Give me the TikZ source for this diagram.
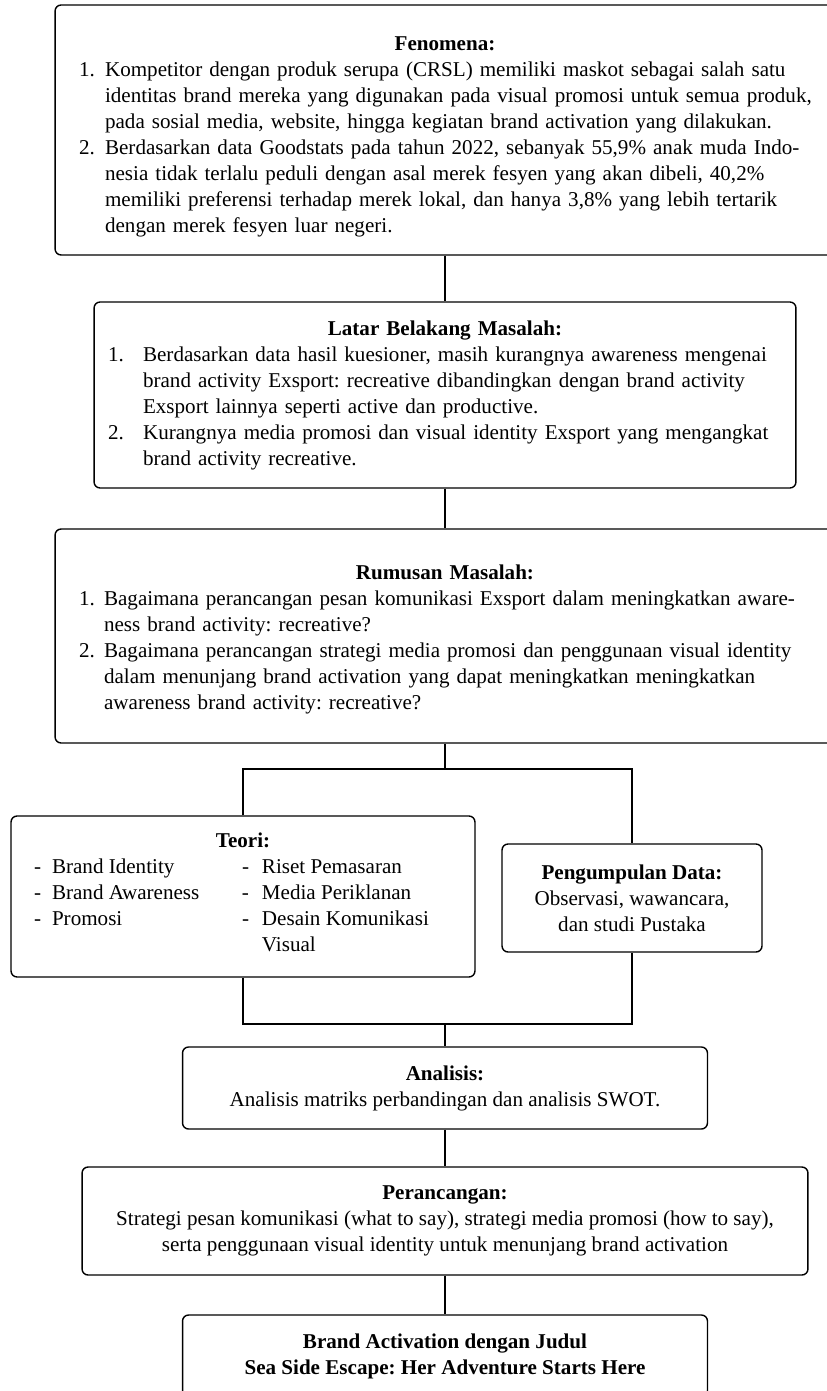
\documentclass[tikz,border=0pt]{standalone}
\usepackage{fontspec}
\setmainfont{Liberation Serif}
\usepackage{enumitem}
\setlist[enumerate]{topsep=0pt,itemsep=0pt,parsep=0pt,partopsep=0pt,labelsep=0pt,align=left}
\frenchspacing

\begin{document}
\begin{tikzpicture}
  [x=0.02cm, y=-0.02cm, line width=0.8pt,
   boxN/.style={draw,rounded corners=0.12cm,inner ysep=0pt,font=\fontsize{12}{14.8}\selectfont},
   listN/.style={boxN,align=left}
  ]

  \useasboundingbox (0,0) rectangle (826,1391);

  \node[listN,inner xsep=0.48cm,text width=14.64cm,minimum height=5cm] (fenomena) at (445,130) {%
    {\centering\rule{0pt}{16pt}\textbf{Fenomena:}\par}
    \begin{enumerate}[leftmargin=0.52cm,labelwidth=0.52cm]
      \item \mbox{Kompetitor dengan produk serupa (CRSL) memiliki maskot sebagai salah satu}\newline
            \mbox{identitas brand mereka yang digunakan pada visual promosi untuk semua produk,}\newline
            \mbox{pada sosial media, website, hingga kegiatan brand activation yang dilakukan.}
      \item \mbox{Berdasarkan data Goodstats pada tahun 2022, sebanyak 55,9\% anak muda Indo-}\newline
            \mbox{nesia tidak terlalu peduli dengan asal merek fesyen yang akan dibeli, 40,2\%}\newline
            \mbox{memiliki preferensi terhadap merek lokal, dan hanya 3,8\% yang lebih tertarik}\newline
            \mbox{dengan merek fesyen luar negeri.}
    \end{enumerate}};

  \node[listN,inner xsep=0.28cm,text width=13.48cm,minimum height=3.72cm] (latar) at (445,395) {%
    {\centering\textbf{Latar Belakang Masalah:}\par}
    \begin{enumerate}[leftmargin=0.7cm,labelwidth=0.7cm]
      \item \mbox{Berdasarkan data hasil kuesioner, masih kurangnya awareness mengenai}\newline
            \mbox{brand activity Exsport: recreative dibandingkan dengan brand activity}\newline
            \mbox{Exsport lainnya seperti active dan productive.}
      \item \mbox{Kurangnya media promosi dan visual identity Exsport yang mengangkat}\newline
            \mbox{brand activity recreative.}
    \end{enumerate}};

  \node[listN,inner xsep=0.48cm,text width=14.64cm,minimum height=4.28cm] (rumusan) at (445,636) {%
    {\centering\rule{0pt}{12.5pt}\textbf{Rumusan Masalah:}\par}
    \begin{enumerate}[leftmargin=0.5cm,labelwidth=0.5cm]
      \item \mbox{Bagaimana perancangan pesan komunikasi Exsport dalam meningkatkan aware-}\newline
            \mbox{ness brand activity: recreative?}
      \item \mbox{Bagaimana perancangan strategi media promosi dan penggunaan visual identity}\newline
            \mbox{dalam menunjang brand activation yang dapat meningkatkan meningkatkan}\newline
            \mbox{awareness brand activity: recreative?}
    \end{enumerate}};

  \node[boxN,minimum width=9.28cm,minimum height=3.22cm,align=center] (teori) at (243,896.5) {%
    \textbf{Teori:}\\
    \setlength{\tabcolsep}{0pt}%
    \begin{tabular}[t]{@{}p{0.36cm}p{3.8cm}p{0.4cm}p{3.8cm}@{}}
      - & Brand Identity  & - & Riset Pemasaran\\
      - & Brand Awareness & - & Media Periklanan\\
      - & Promosi         & - & Desain Komunikasi\newline Visual
    \end{tabular}};

  \node[boxN,minimum width=5.2cm,minimum height=2.16cm,align=center] (data) at (632,898)
    {\textbf{Pengumpulan Data:}\\Observasi, wawancara,\\dan studi Pustaka};

  \node[boxN,minimum width=10.5cm,minimum height=1.64cm,align=center] (analisis) at (445,1088)
    {\textbf{Analisis:}\\Analisis matriks perbandingan dan analisis SWOT.};

  \node[boxN,minimum width=14.52cm,minimum height=2.16cm,align=center] (perancangan) at (445,1221)
    {\textbf{Perancangan:}\\Strategi pesan komunikasi (what to say), strategi media promosi (how to say),\\
     serta penggunaan visual identity untuk menunjang brand activation};

  \node[boxN,minimum width=10.5cm,minimum height=1.64cm,align=center] (judul) at (445,1356)
    {\textbf{Brand Activation dengan Judul}\\\textbf{Sea Side Escape: Her Adventure Starts Here}};

  \coordinate (split) at (445,769);
  \coordinate (merge) at (445,1024);

  \foreach \a/\b in {fenomena/latar,latar/rumusan,rumusan/split,merge/analisis,analisis/perancangan,perancangan/judul} {
      \draw (\a) -- (\b);
  }

  \draw (teori.north) |- (split) -| (data.north);
  \draw (teori.south) |- (merge) -| (data.south);

\end{tikzpicture}
\end{document}
